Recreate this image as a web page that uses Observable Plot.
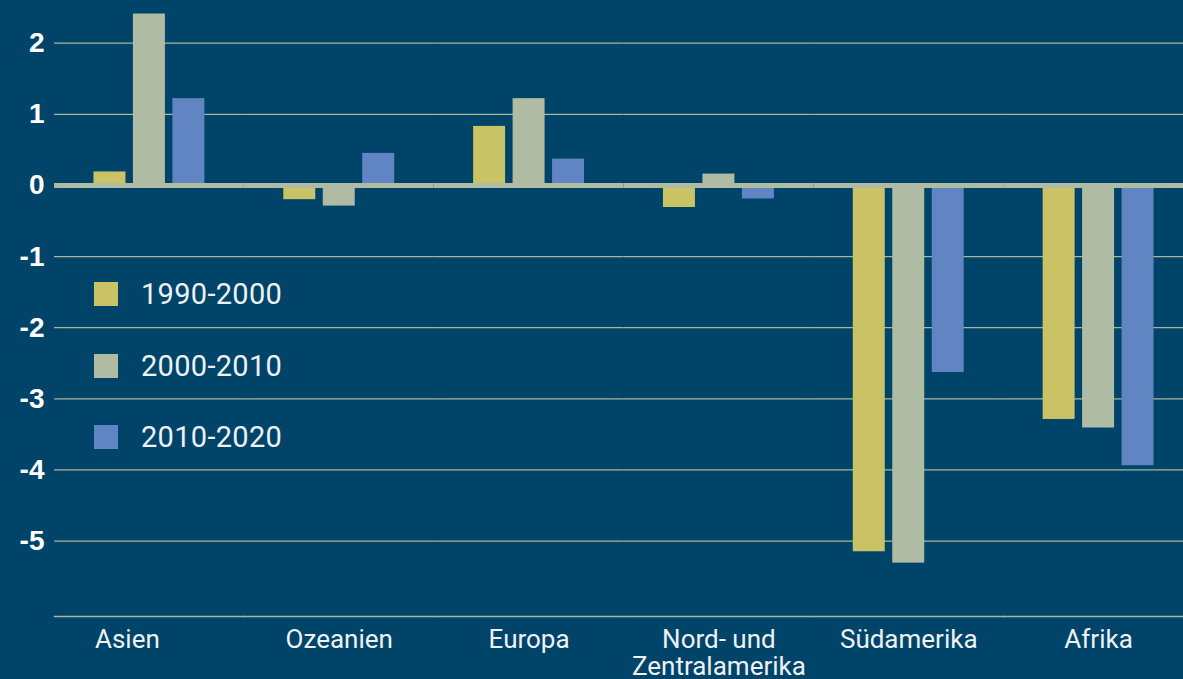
<!DOCTYPE html>
<html><head><meta charset="utf-8">
<script src="https://cdn.jsdelivr.net/npm/d3@7"></script>
<script src="https://cdn.jsdelivr.net/npm/@observablehq/plot@0.6"></script>
<style>
html,body{margin:0;padding:0;background:#01446a;}
#wrap{position:relative;width:1183px;height:679px;overflow:hidden;}
#legend{position:absolute;left:94px;top:282px;font-family:Roboto,sans-serif;font-size:29px;color:#eef2f2;letter-spacing:0.3px;}
.item{display:flex;align-items:center;height:24px;line-height:24px;margin-bottom:47.5px;}
.sw{width:24px;height:24px;margin-right:23px;flex:none;}
</style></head>
<body><div id="wrap"></div>
<script>
const regions = ["Asien","Ozeanien","Europa","Nord- und Zentralamerika","Südamerika","Afrika"];
const periods = ["1990-2000","2000-2010","2010-2020"];
const v1990 = [0.19,-0.20,0.83,-0.31,-5.15,-3.29];
const v2000 = [2.41,-0.29,1.22,0.16,-5.31,-3.41];
const v2010 = [1.22,0.45,0.37,-0.19,-2.63,-3.94];
const colors = ["#c9c365","#afbca3","#6085c2"];
const yTicks = [2,1,0,-1,-2,-3,-4,-5];
const regionLabels = {"Nord- und Zentralamerika":"Nord- und\nZentralamerika"};

const series = [v1990, v2000, v2010];
const data = [];
regions.forEach((r, i) => periods.forEach((p, j) => data.push({region: r, period: p, value: series[j][i]})));

const fxAxisStyle = {anchor: "bottom", tickSize: 0, tickPadding: 12, fontSize: 26, fontFamily: "Roboto, sans-serif",
  fill: "#eef2f2", lineHeight: 1.05, label: null, tickFormat: d => regionLabels[d] || d};

const chart = Plot.plot({
  width: 1183,
  height: 679,
  marginTop: 0,
  marginBottom: 63,
  marginLeft: 54,
  marginRight: 0,
  style: {background: "#01446a", color: "#eef2f2", overflow: "hidden"},
  fx: {domain: regions, range: [54, 1193], padding: 0, round: false},
  x: {domain: periods, paddingInner: 0.19, paddingOuter: 1, round: false, axis: null},
  y: {domain: [-6.06, 2.6]},
  color: {domain: periods, range: colors},
  marks: [
    Plot.ruleY(yTicks.filter(d => d !== 0), {stroke: "#a9b59c", strokeWidth: 1.2}),
    Plot.frame({anchor: "bottom", stroke: "#a9b59c", strokeWidth: 1.5}),
    Plot.barY(data, {fx: "region", x: "period", y: "value", fill: "period", inset: 0}),
    Plot.ruleY([0], {stroke: "#afbca3", strokeWidth: 5}),
    Plot.axisY({ticks: yTicks, tickSize: 0, tickPadding: 10, tickFormat: d => String(d),
      fontSize: 28, fontWeight: "bold", fontFamily: "Liberation Sans, Arial, sans-serif", fill: "#ffffff", label: null}),
    Plot.axisFx({...fxAxisStyle, ticks: regions.slice(0, 1), dx: -22}),
    Plot.axisFx({...fxAxisStyle, ticks: regions.slice(1)})
  ]
});

const wrap = document.getElementById("wrap");
wrap.appendChild(chart);
const legend = document.createElement("div");
legend.id = "legend";
periods.forEach((p, j) => {
  const it = document.createElement("div");
  it.className = "item";
  it.innerHTML = `<div class="sw" style="background:${colors[j]}"></div><span>${p}</span>`;
  legend.appendChild(it);
});
wrap.appendChild(legend);
</script>
</body></html>
